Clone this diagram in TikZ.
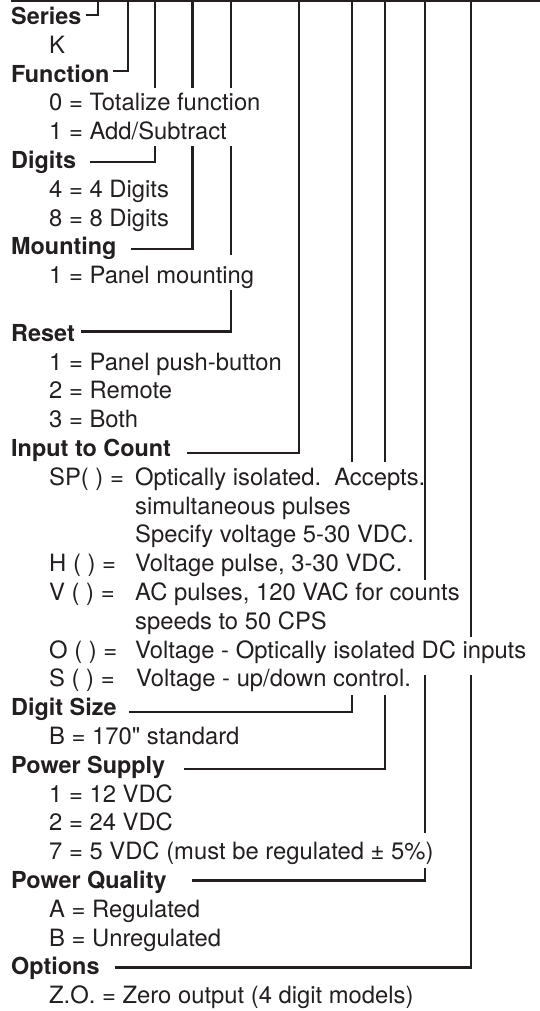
\documentclass[tikz,border=0pt]{standalone}
\usepackage{fontspec}
\setmainfont{TeX Gyre Heros}[Ligatures=TeXOff]
\definecolor{ink}{RGB}{35,31,32}
\begin{document}
\begin{tikzpicture}[x=1pt,y=-1pt,
  lbl/.style={anchor=base west,inner sep=0pt,text=ink,font=\fontsize{23.8}{28}\selectfont},
  head/.style={lbl,font=\fontsize{23.4}{28}\selectfont\bfseries},
  conn/.style={draw=ink,line width=2.1pt}]
\useasboundingbox (0,0) rectangle (540,1011);
% ---------- texts ----------
\node[head] (hSeries) at (11,24.5) {Series};
\node[lbl]  (k)  at (49,53.3) {K};
\node[head] (hFunction) at (11,82.1) {Function};
\node[lbl]  (f0) at (49,110.9) {0 = Totalize function};
\node[lbl]  (f1) at (49,139.7) {1 = Add/Subtract};
\node[head] (hDigits) at (11,168.5) {Digits};
\node[lbl]  (d4) at (49,197.3) {4 = 4 Digits};
\node[lbl]  (d8) at (49,226.1) {8 = 8 Digits};
\node[head] (hMounting) at (11,254.9) {Mounting};
\node[lbl]  (m1) at (49,283.7) {1 = Panel mounting};
\node[head] (hReset) at (11,341.3) {Reset};
\node[lbl]  (r1) at (49,370.1) {1 = Panel push-button};
\node[lbl]  (r2) at (49,398.9) {2 = Remote};
\node[lbl]  (r3) at (49,427.7) {3 = Both};
\node[head] (hInput) at (11,456.5) {Input to Count};
\node[lbl]  (spL) at (49,485.3) {SP( ) =};
\node[lbl]  (spD1) at (135,485.3) {Optically isolated.\ \ Accepts.};
\node[lbl]  (spD2) at (135,514.1) {simultaneous pulses};
\node[lbl]  (spD3) at (135,542.9) {Specify voltage 5-30 VDC.};
\node[lbl]  (hL) at (49,571.7) {H ( ) =};
\node[lbl]  (hD) at (135,571.7) {Voltage pulse, 3-30 VDC.};
\node[lbl]  (vL) at (49,600.5) {V ( ) =};
\node[lbl]  (vD1) at (135,600.5) {AC pulses, 120 VAC for counts};
\node[lbl]  (vD2) at (135,629.3) {speeds to 50 CPS};
\node[lbl]  (oL) at (49,658.1) {O ( ) =};
\node[lbl]  (oD) at (135,658.1) {Voltage - Optically isolated DC inputs};
\node[lbl]  (sL) at (49,686.9) {S ( ) =};
\node[lbl]  (sD) at (136,686.9) {Voltage - up/down control.};
\node[head] (hDigitSize) at (11,715.7) {Digit Size};
\node[lbl]  (b170) at (49,744.5) {B = 170" standard};
\node[head] (hPower) at (11,773.3) {Power Supply};
\node[lbl]  (p1) at (49,802.1) {1 = 12 VDC};
\node[lbl]  (p2) at (49,830.9) {2 = 24 VDC};
\node[lbl]  (p7) at (49,859.7) {7 = 5 VDC (must be regulated ± 5\%)};
\node[head] (hQuality) at (11,888.5) {Power Quality};
\node[lbl]  (qA) at (49,917.3) {A = Regulated};
\node[lbl]  (qB) at (49,946.1) {B = Unregulated};
\node[head] (hOptions) at (11,974.9) {Options};
\node[lbl]  (zo) at (49,1003.7) {Z.O. = Zero output (4 digit models)};
% ---------- coordinates ----------
\coordinate (barL) at (11,1);
\coordinate (barR) at (540,1);
\coordinate (sSeries) at (86,15);     \coordinate (tSeries) at (98,1);
\coordinate (sFunction) at (113,71);  \coordinate (tFunction) at (128,1);
\coordinate (sDigits) at (90,162);    \coordinate (tDigits) at (154.8,1);
\coordinate (sMount) at (131,249);    \coordinate (tMount) at (192.5,1);
\coordinate (sReset) at (81,331.5);   \coordinate (tReset) at (231.4,1);
\coordinate (sInput) at (187,453.3);  \coordinate (tInput) at (299,1);
\coordinate (sSize) at (128.5,711.7); \coordinate (tSize) at (352,1);
\coordinate (sPower) at (184,769);    \coordinate (tPower) at (384.6,1);
\coordinate (sQual) at (192,880.5);   \coordinate (tQual) at (425,1);
\coordinate (sOpt) at (115,967.5);    \coordinate (tOpt) at (471,1);
% ---------- connectors ----------
\draw[conn] (barL) -- (barR);
\draw[conn] (sSeries) -| (tSeries);
\draw[conn] (sFunction) -| (tFunction);
\draw[conn] (sDigits) -| (tDigits |- 0,145.7);
\draw[conn] (tDigits |- 0,88) -- (tDigits);
\draw[conn] (sMount) -| (tMount |- 0,145.7);
\draw[conn] (tMount |- 0,88) -- (tMount);
\draw[conn] (sReset) -| (tReset |- 0,290);
\draw[conn] (tReset |- 0,255) -- (tReset |- 0,145.7);
\draw[conn] (tReset |- 0,88) -- (tReset);
\draw[conn] (sInput) -| (tInput);
\draw[conn] (sSize) -| (tSize |- 0,695);
\draw[conn] (tSize |- 0,462) -- (tSize);
\draw[conn] (sPower) -| (tPower |- 0,695);
\draw[conn] (tPower |- 0,462) -- (tPower);
\draw[conn] (sQual) -| (tQual |- 0,868);
\draw[conn] (tQual |- 0,833) -- (tQual |- 0,675);
\draw[conn] (tQual |- 0,580) -- (tQual);
\draw[conn] (sOpt) -| (tOpt |- 0,675);
\draw[conn] (tOpt |- 0,636.7) -- (tOpt);
\end{tikzpicture}
\end{document}
